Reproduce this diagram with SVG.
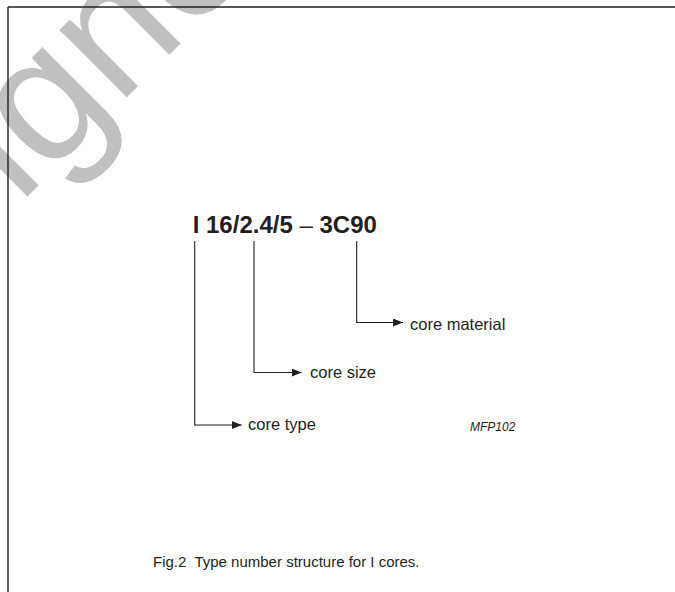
<svg xmlns="http://www.w3.org/2000/svg" width="675" height="592" viewBox="0 0 675 592">
<style>
text{font-family:"Liberation Sans",Arial,sans-serif;fill:#231f20}
.lbl{font-size:16.5px}
.lead{fill:none;stroke:#231f20;stroke-width:1.1}
</style>
<defs>
<marker id="ah" viewBox="0 0 10 8" refX="10" refY="4" markerWidth="10" markerHeight="8" markerUnits="userSpaceOnUse" orient="auto">
<path d="M0,0 L10,4 L0,8 Z" fill="#231f20"/>
</marker>
</defs>
<rect width="675" height="592" fill="#fff"/>
<text id="watermark" x="18.9" y="205.1" transform="rotate(-45 18.9 205.1)" style="font-size:180px;fill:#c0c0c0">igne</text>
<g id="frame"><path d="M8,7 H675 M8,7 V592" fill="none" stroke="#231f20" stroke-width="1.4"/></g>
<g id="typenumber"><text x="192.7" y="233" style="font-size:24px;font-weight:bold">I 16/2.4/5 <tspan style="font-weight:normal">–</tspan> 3C90</text></g>
<g id="connectors">
<path class="lead" d="M194.7,241 V425 H241.7" marker-end="url(#ah)"/>
<path class="lead" d="M254,241 V372.5 H301.7" marker-end="url(#ah)"/>
<path class="lead" d="M356.7,241 V322.5 H403" marker-end="url(#ah)"/>
</g>
<g id="core-material"><text class="lbl" x="410" y="330">core material</text></g>
<g id="core-size"><text class="lbl" x="310" y="377.5">core size</text></g>
<g id="core-type"><text class="lbl" x="248" y="430">core type</text></g>
<g id="ref"><text x="470" y="430.5" style="font-size:12px;font-style:italic">MFP102</text></g>
<g id="caption"><text x="153" y="566.5" style="font-size:15px" xml:space="preserve">Fig.2  Type number structure for I cores.</text></g>
</svg>
